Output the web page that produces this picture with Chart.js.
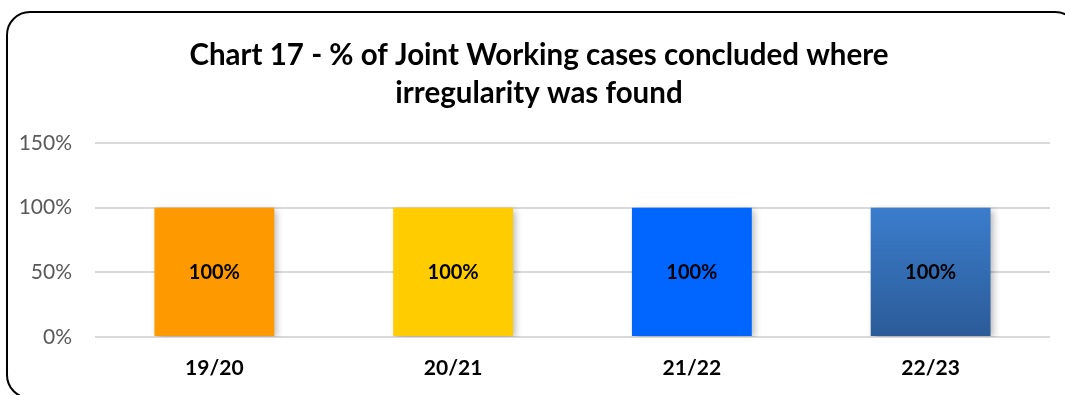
<!DOCTYPE html>
<html>
<head>
<meta charset="utf-8">
<script src="https://cdn.jsdelivr.net/npm/chart.js@4/dist/chart.umd.min.js"></script>
<style>
  html, body { margin: 0; padding: 0; background: #fff; overflow: hidden; }
  canvas { display: block; }
</style>
</head>
<body>
<canvas id="c" width="1065" height="395"></canvas>
<script>
const titleLines = ["Chart 17 - % of Joint Working cases concluded where", "irregularity was found"];
const categories = ["19/20", "20/21", "21/22", "22/23"];
const values = [100, 100, 100, 100];
const barColors = ["#FF9900", "#FFCC00", "#0066FF", null];
const yTicks = { min: 0, max: 150, step: 50 };

const FONT = "Lato, 'Open Sans', 'Liberation Sans', sans-serif";

function barFill(ctx) {
  const i = ctx.dataIndex;
  if (barColors[i]) return barColors[i];
  const chart = ctx.chart;
  const y = chart.scales.y;
  if (!y || !chart.chartArea) return "#3370B8";
  const g = chart.ctx.createLinearGradient(0, y.getPixelForValue(values[i]), 0, y.getPixelForValue(0));
  g.addColorStop(0, "#3B7DCC");
  g.addColorStop(1, "#2B5B98");
  return g;
}

const framePlugin = {
  id: "frame",
  beforeDraw(chart) {
    const c = chart.ctx;
    c.save();
    c.fillStyle = "#fff";
    c.fillRect(0, 0, chart.width, chart.height);
    c.strokeStyle = "#000";
    c.lineWidth = 2;
    c.beginPath();
    c.roundRect(7, 12, 1071, 386, 23);
    c.stroke();
    c.restore();
  },
  afterDraw(chart) {
    const c = chart.ctx;
    c.save();
    c.font = "bold 29.5px " + FONT;
    c.fillStyle = "#000";
    c.textAlign = "center";
    c.textBaseline = "middle";
    c.fillText(titleLines[0], 539, 55);
    c.fillText(titleLines[1], 539, 93);
    c.restore();
  }
};

const shadowPlugin = {
  id: "shadow",
  beforeDatasetsDraw(chart) {
    const c = chart.ctx;
    c.save();
    c.shadowColor = "rgba(0,0,0,0.28)";
    c.shadowBlur = 7;
    c.shadowOffsetX = 3;
    c.shadowOffsetY = 2;
  },
  afterDatasetsDraw(chart) { chart.ctx.restore(); }
};

const labelPlugin = {
  id: "barLabels",
  afterDatasetsDraw(chart) {
    const c = chart.ctx;
    const meta = chart.getDatasetMeta(0);
    c.save();
    c.shadowColor = "transparent";
    c.font = "bold 20px " + FONT;
    c.fillStyle = "#000";
    c.textAlign = "center";
    c.textBaseline = "middle";
    meta.data.forEach((bar, i) => {
      const mid = (bar.y + bar.base) / 2;
      c.fillText(values[i] + "%", bar.x, mid + 1);
    });
    c.restore();
  }
};

new Chart(document.getElementById("c"), {
  type: "bar",
  data: {
    labels: categories,
    datasets: [{
      data: values,
      backgroundColor: barFill,
      borderWidth: 0,
      categoryPercentage: 1,
      barPercentage: 0.502
    }]
  },
  options: {
    responsive: false,
    animation: false,
    devicePixelRatio: 1,
    layout: { padding: { left: 0, right: 15, top: 143, bottom: 0 } },
    plugins: {
      legend: { display: false },
      tooltip: { enabled: false },
      title: { display: false }
    },
    scales: {
      x: {
        grid: { display: false, drawTicks: false },
        border: { display: false },
        ticks: { color: "#000", font: { family: FONT, size: 21, weight: "bold" }, padding: 19 },
        afterFit(s) { s.height = 58; }
      },
      y: {
        min: yTicks.min, max: yTicks.max,
        grid: { color: "#D9D9D9", lineWidth: 2, drawTicks: false },
        border: { display: false },
        ticks: {
          stepSize: yTicks.step,
          color: "#595959",
          font: { family: FONT, size: 21 },
          padding: 23,
          callback: v => v + "%"
        },
        afterFit(s) { s.width = 95; }
      }
    }
  },
  plugins: [framePlugin, shadowPlugin, labelPlugin]
});
</script>
</body>
</html>
